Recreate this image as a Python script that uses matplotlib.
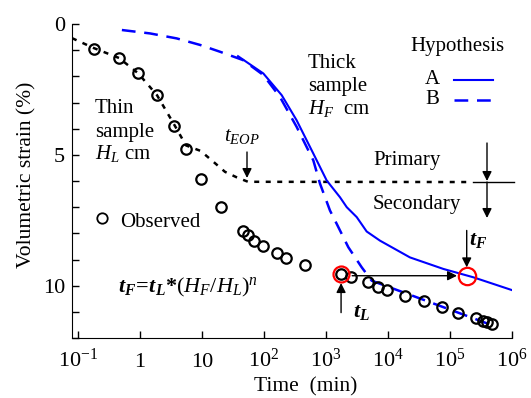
import matplotlib
matplotlib.use("Agg")
import matplotlib.pyplot as plt
from matplotlib.ticker import FixedLocator, NullLocator

plt.rcParams["font.family"] = "Liberation Serif"
plt.rcParams["mathtext.fontset"] = "custom"
plt.rcParams["mathtext.rm"] = "Liberation Serif"
plt.rcParams["mathtext.it"] = "Liberation Serif:italic"
plt.rcParams["mathtext.bf"] = "Liberation Serif:bold"
plt.rcParams["mathtext.bfit"] = "Liberation Serif:bold:italic"

# ---- Data ----
obs_t = [0.18, 0.46, 0.92, 1.9, 3.6, 5.5, 9.5, 20, 45, 55, 69, 95, 160, 226, 460,
         1750, 2500, 4800, 7000, 9600, 18800, 38000, 73000, 136000, 267000,
         345000, 400000, 470000]
obs_s = [0.97, 1.31, 1.89, 2.72, 3.91, 4.76, 5.91, 7.0, 7.92, 8.06, 8.28, 8.5, 8.76,
         8.94, 9.21, 9.55, 9.66, 9.87, 10.06, 10.17, 10.38, 10.6, 10.83, 11.06,
         11.24, 11.34, 11.38, 11.47]

thin_t = [0.08, 0.18, 0.46, 0.93, 1.88, 3.53, 5.52, 9.5, 15.0, 23.5, 36.3, 55.2, 195000]
thin_s = [0.54, 0.92, 1.30, 1.88, 2.72, 3.83, 4.64, 4.85, 5.25, 5.65, 5.86, 6.03, 6.04]

hypA_t = [38.1, 97.5, 193, 336, 624, 1026, 1680, 2160, 3130, 4530, 7430, 22600,
          78000, 238000, 1000000]
hypA_s = [1.23, 1.89, 2.72, 3.68, 4.95, 5.98, 6.62, 7.0, 7.38, 7.93, 8.28, 8.92,
          9.36, 9.68, 10.17]

hypB_t = [0.51, 1.45, 3.9, 9.3, 19.5, 46, 97.5, 181, 336, 624, 800, 1160, 1490,
          2290, 3770, 5460, 32800, 499000]
hypB_s = [0.23, 0.36, 0.55, 0.80, 1.06, 1.38, 1.95, 2.79, 3.93, 5.21, 6.10, 7.13,
          7.64, 8.53, 9.30, 9.81, 10.49, 11.53]

tL_t, tL_s = 1750, 9.55
tF_t, tF_s = 186000, 9.62
arrow_s = 9.62

xticks = [0.1, 1, 10, 1e2, 1e3, 1e4, 1e5, 1e6]
xticklabels = ["$10^{-1}$", "1", "10", "$10^{2}$", "$10^{3}$", "$10^{4}$",
               "$10^{5}$", "$10^{6}$"]
yticks = [0, 5, 10]

# ---- Canvas ----
W, H = 531, 398
fig = plt.figure(figsize=(W / 100, H / 100), dpi=100)
ax = fig.add_axes([72 / W, 1 - 338 / H, 440 / W, 314 / H])


def pxa(x, y):
    # pixel position in the figure -> axes fraction
    return ((x - 72) / 440, (338 - y) / 314)


ax.set_xscale("log")
ax.set_xlim(0.08, 1e6)
ax.set_ylim(12, 0)
for s in ["top", "right"]:
    ax.spines[s].set_visible(False)

ax.xaxis.set_major_locator(FixedLocator(xticks))
ax.xaxis.set_minor_locator(NullLocator())
ax.set_xticklabels(xticklabels)
ax.yaxis.set_major_locator(FixedLocator(yticks))
ax.yaxis.set_minor_locator(FixedLocator(range(0, 13)))
ax.tick_params(which="both", direction="in", length=5, width=1, labelsize=16)
ax.tick_params(axis="y", pad=5)
ax.tick_params(axis="x", pad=21)
for lab in ax.get_xticklabels():
    lab.set_verticalalignment("baseline")

# ---- Curves ----
ax.plot(thin_t, thin_s, color="black", lw=1.8, dashes=(2.0, 2.6))
ax.plot(hypA_t, hypA_s, color="#0000ff", lw=1.5)
ax.plot(hypB_t, hypB_s, color="#0000ff", lw=1.8, dashes=(5.5, 3.5))
ax.plot(obs_t, obs_s, "o", ms=7.5, mfc="none", mec="black", mew=1.6)
ax.plot([tL_t], [tL_s], "o", ms=11.5, mfc="none", mec="red", mew=1.6)
ax.plot([tF_t], [tF_s], "o", ms=12.5, mfc="none", mec="red", mew=1.6)

arrow_kw = dict(arrowstyle="-|>", color="black", lw=1, mutation_scale=14,
                shrinkA=0, shrinkB=0)
ax.annotate("", xy=(tF_t, arrow_s), xytext=(tL_t, arrow_s),
            arrowprops=dict(arrowstyle="-|>", color="black", lw=1, mutation_scale=14,
                            shrinkA=8, shrinkB=7))
ax.annotate("", xy=(tL_t, 9.9), xytext=(tL_t, 11.03), arrowprops=arrow_kw)
ax.annotate("", xy=(tF_t, 9.3), xytext=(tF_t, 7.89), arrowprops=arrow_kw)

# t_EOP and primary/secondary arrows
ax.annotate("", xy=pxa(247, 178), xytext=pxa(247, 152), xycoords="axes fraction",
            arrowprops=arrow_kw)
ax.annotate("", xy=pxa(487, 181), xytext=pxa(487, 143), xycoords="axes fraction",
            arrowprops=arrow_kw)
ax.annotate("", xy=pxa(487, 218), xytext=pxa(487, 182), xycoords="axes fraction",
            arrowprops=arrow_kw)
ax.plot([pxa(473, 182)[0], pxa(514, 182)[0]], [pxa(473, 182)[1]] * 2,
        color="black", lw=1, transform=ax.transAxes, clip_on=False)

# ---- Texts ----
fs = 15
def txt(x, y, s, ha="left", **kw):
    ax.text(*pxa(x, y), s, ha=ha, va="center", fontsize=kw.pop("fontsize", fs),
            transform=ax.transAxes, **kw)

txt(95, 108, "Thin")
txt(95, 132, "sample")
txt(95, 154, "$H_L$ cm")
txt(308, 63, "Thick")
txt(308, 87, "sample")
txt(308, 108, "$H_F$  cm")
txt(457, 47, "Hypothesis", ha="center")
txt(432, 80, "A", ha="center")
txt(432, 100, "B", ha="center")
txt(407, 160, "Primary", ha="center")
txt(417, 205, "Secondary", ha="center")
txt(120, 222, "Observed")
txt(242, 137, "$t_{EOP}$", ha="center")
txt(118, 287, r"$\mathbfit{t}_{\mathbfit{F}}\!\mathbf{=}\!\mathbfit{t}_{\mathbfit{L}}"
              r"\mathbf{*}(H_F/H_L)^n$", fontsize=16)
txt(353, 313, r"$\mathbfit{t}_{\mathbfit{L}}$", fontsize=16)
txt(478, 240, r"$\mathbfit{t}_{\mathbfit{F}}$", ha="center", fontsize=16)

# legend samples
ax.plot([pxa(454, 80)[0], pxa(493, 80)[0]], [pxa(454, 80)[1]] * 2,
        color="#0000ff", lw=1.5, transform=ax.transAxes)
ax.plot([pxa(454, 100)[0], pxa(493, 100)[0]], [pxa(454, 100)[1]] * 2,
        color="#0000ff", lw=1.8, dashes=(5.5, 3.5), transform=ax.transAxes)
ax.plot([pxa(102, 218)[0]], [pxa(102, 218)[1]], "o", ms=7.5, mfc="none",
        mec="black", mew=1.3, transform=ax.transAxes)

# axis labels
fig.text(27 / W, 1 - 175 / H, "Volumetric strain (%)", rotation=90,
         ha="center", va="center", fontsize=15.5)
fig.text(306 / W, 1 - 387 / H, "Time  (min)", ha="center", va="center",
         fontsize=15.5)

fig.savefig("out.png", dpi=100)
